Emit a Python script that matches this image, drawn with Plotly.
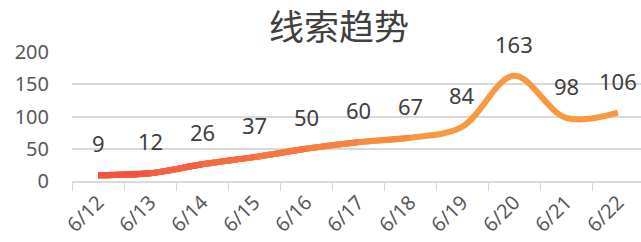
import plotly.graph_objects as go

categories = ["6/12", "6/13", "6/14", "6/15", "6/16", "6/17", "6/18", "6/19", "6/20", "6/21", "6/22"]
values = [9, 12, 26, 37, 50, 60, 67, 84, 163, 98, 106]
title_text = "线索趋势"
y_ticks = [0, 50, 100, 150, 200]

start_rgb = (245, 72, 66)
end_rgb = (248, 152, 64)


def mix(t):
    r = round(start_rgb[0] + (end_rgb[0] - start_rgb[0]) * t)
    g = round(start_rgb[1] + (end_rgb[1] - start_rgb[1]) * t)
    b = round(start_rgb[2] + (end_rgb[2] - start_rgb[2]) * t)
    return f"rgb({r},{g},{b})"


fig = go.Figure()
n = len(categories)
fig.add_trace(go.Scatter(
    x=categories, y=values, mode="lines",
    line=dict(color=mix(1.0), width=6, shape="spline", smoothing=1.0),
    hoverinfo="skip", showlegend=False, cliponaxis=False,
))
for k in range(7, 1, -1):
    t = (k - 1) / 7
    fig.add_trace(go.Scatter(
        x=categories[:k], y=values[:k], mode="lines",
        line=dict(color=mix(min(t, 1.0)), width=6, shape="spline", smoothing=1.0),
        hoverinfo="skip", showlegend=False, cliponaxis=False,
    ))

for c, v in zip(categories, values):
    fig.add_annotation(
        x=c, y=v, text=str(v), showarrow=False, yshift=32,
        font=dict(family="Noto Sans", size=22, color="#404040"),
    )

fig.update_layout(
    width=641, height=242,
    margin=dict(l=72, r=0, t=52, b=61, autoexpand=False),
    paper_bgcolor="white", plot_bgcolor="white",
    title=dict(
        text=title_text, x=0.529, xanchor="center", y=0.885, yanchor="middle",
        font=dict(family="Noto Sans CJK SC", size=35, color="#404040"),
    ),
    font=dict(family="Noto Sans", color="#595959"),
)
fig.update_xaxes(
    type="category", categoryorder="array", categoryarray=categories,
    range=[-0.5, n - 0.5 - 3 / 52],
    tickson="boundaries", ticks="outside", ticklen=8, tickcolor="#d9d9d9",
    showline=True, linecolor="#d9d9d9", linewidth=1.5,
    showgrid=False, tickangle=-45, automargin=False,
    tickfont=dict(family="Noto Sans", size=20, color="#595959"),
    fixedrange=True,
)
fig.update_yaxes(
    range=[0, 200], tickvals=y_ticks,
    showgrid=True, gridcolor="#d9d9d9", gridwidth=1.5,
    zeroline=False, showline=False, ticks="", automargin=False,
    ticklabelstandoff=22,
    tickfont=dict(family="Noto Sans", size=20, color="#595959"),
    fixedrange=True,
)

fig.write_html(
    "out.html",
    config={"displayModeBar": False},
    post_script="document.body.style.margin='0';document.body.style.overflow='hidden';",
)
